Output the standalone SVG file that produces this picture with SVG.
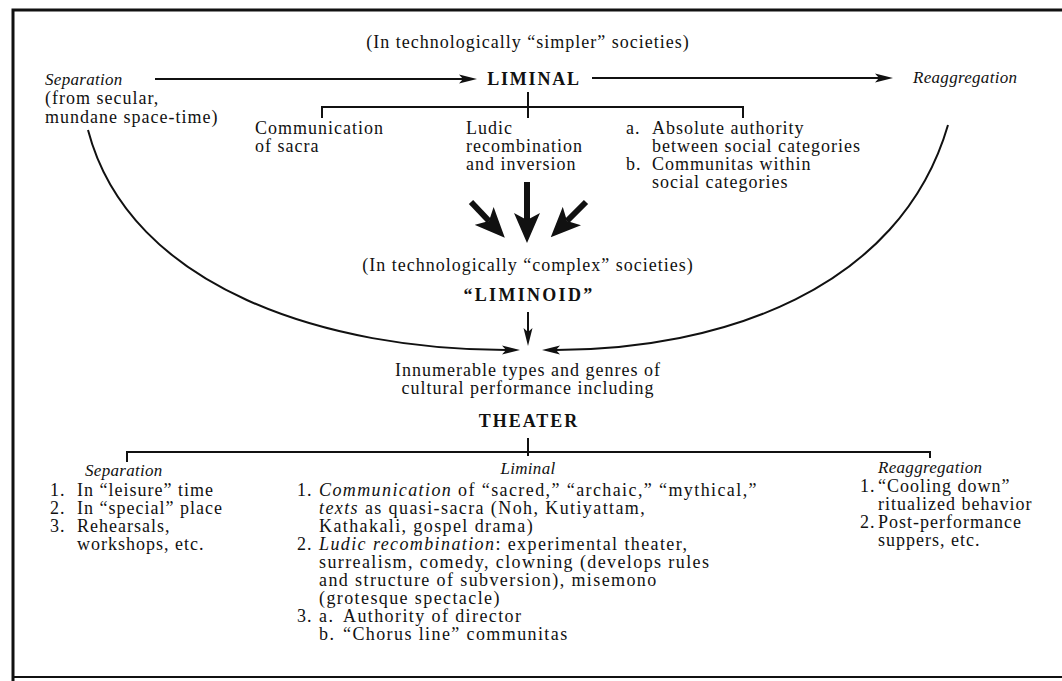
<svg xmlns="http://www.w3.org/2000/svg" width="1062" height="681" viewBox="0 0 1062 681">
<defs>
<style>
text { font-family: "Liberation Serif", "Times New Roman", serif; fill:#111; }
.b { font-size:18px; letter-spacing:1px; }
.m { letter-spacing:1.4px; }
.i { font-size:17px; font-style:italic; letter-spacing:0.3px; }
.h { font-size:18px; font-weight:bold; }
.c { text-anchor:middle; }
.ln { fill:none; stroke:#111; stroke-width:2; }
.thick { fill:none; stroke:#111; stroke-width:6; }
</style>
<marker id="ah" markerUnits="userSpaceOnUse" markerWidth="18" markerHeight="10" viewBox="0 0 18 10" refX="4" refY="5" orient="auto"><path d="M0,0.5 L18,5 L0,9.5 L4,5 z" fill="#111"/></marker>
<marker id="big" markerUnits="userSpaceOnUse" markerWidth="30" markerHeight="26" viewBox="0 0 30 26" refX="7" refY="13" orient="auto"><path d="M0,0 L30,13 L0,26 L7,13 z" fill="#111"/></marker>
</defs>
<rect width="1062" height="681" fill="#fff"/>
<g id="frame">
<path d="M13,681 V10 H1062" fill="none" stroke="#111" stroke-width="3"/>
<path d="M13,677 H1062" fill="none" stroke="#111" stroke-width="2"/>
</g>
<g id="connectors">
<path class="ln" d="M155,79 H463" marker-end="url(#ah)"/>
<path class="ln" d="M592,78 H879" marker-end="url(#ah)"/>
<path class="ln" d="M322,118 V107 H743 V118"/>
<path class="ln" d="M528,92 V118"/>
<path class="thick" d="M527,182 V220" marker-end="url(#big)"/>
<path class="thick" d="M471,202 L489,221" marker-end="url(#big)"/>
<path class="thick" d="M586,202 L567,221" marker-end="url(#big)"/>
<path class="ln" d="M88,130 C130,290 330,350 506,350" marker-end="url(#ah)"/>
<path class="ln" d="M948,125 C900,290 720,350 556,350" marker-end="url(#ah)"/>
<path class="ln" d="M528,312 V332" marker-end="url(#ah)"/>
<path class="ln" d="M127,462 V452 H930 V458"/>
<path class="ln" d="M528,438 V456"/>
</g>
<g id="simpler"><text class="b c" x="528" y="48">(In technologically “simpler” societies)</text></g>
<g id="separation-top">
<text class="i" x="45" y="85">Separation</text>
<text class="b" x="45" y="104">(from secular,</text>
<text class="b" x="45" y="123">mundane space-time)</text>
</g>
<g id="liminal-top"><text class="h c" x="534" y="85" letter-spacing="1.8">LIMINAL</text></g>
<g id="reaggregation-top"><text class="i" x="913" y="83">Reaggregation</text></g>
<g id="communication">
<text class="b" x="255" y="134">Communication</text>
<text class="b" x="255" y="152">of sacra</text>
</g>
<g id="ludic">
<text class="b" x="466" y="134">Ludic</text>
<text class="b" x="466" y="152">recombination</text>
<text class="b" x="466" y="170">and inversion</text>
</g>
<g id="authority">
<text class="b" x="626" y="134">a.</text><text class="b" x="652" y="134">Absolute authority</text>
<text class="b" x="652" y="152">between social categories</text>
<text class="b" x="626" y="170">b.</text><text class="b" x="652" y="170">Communitas within</text>
<text class="b" x="652" y="188">social categories</text>
</g>
<g id="complex"><text class="b c" x="528" y="271">(In technologically “complex” societies)</text></g>
<g id="liminoid"><text class="h c" x="529" y="301" letter-spacing="2.3">“LIMINOID”</text></g>
<g id="innumerable">
<text class="b c" x="528" y="376">Innumerable types and genres of</text>
<text class="b c" x="528" y="394">cultural performance including</text>
</g>
<g id="theater"><text class="h c" x="529" y="427" letter-spacing="2">THEATER</text></g>
<g id="separation-bottom">
<text class="i" x="85" y="476">Separation</text>
<text class="b" x="50" y="496">1.</text><text class="b" x="77" y="496">In “leisure” time</text>
<text class="b" x="50" y="514">2.</text><text class="b" x="77" y="514">In “special” place</text>
<text class="b" x="50" y="532">3.</text><text class="b" x="77" y="532">Rehearsals,</text>
<text class="b" x="77" y="550">workshops, etc.</text>
</g>
<g id="liminal-bottom">
<text class="i c" x="528" y="474">Liminal</text>
<text class="b" x="297" y="496">1.</text><text class="b m" x="319" y="496"><tspan font-style="italic">Communication</tspan> of “sacred,” “archaic,” “mythical,”</text>
<text class="b m" x="319" y="514"><tspan font-style="italic">texts</tspan> as quasi-sacra (Noh, Kutiyattam,</text>
<text class="b m" x="319" y="532">Kathakali, gospel drama)</text>
<text class="b" x="297" y="550">2.</text><text class="b m" x="319" y="550"><tspan font-style="italic">Ludic recombination</tspan>: experimental theater,</text>
<text class="b m" x="319" y="568">surrealism, comedy, clowning (develops rules</text>
<text class="b m" x="319" y="586">and structure of subversion), misemono</text>
<text class="b m" x="319" y="604">(grotesque spectacle)</text>
<text class="b" x="297" y="622">3.</text><text class="b m" x="319" y="622">a.</text><text class="b m" x="343" y="622">Authority of director</text>
<text class="b m" x="319" y="640">b.</text><text class="b m" x="343" y="640">“Chorus line” communitas</text>
</g>
<g id="reaggregation-bottom">
<text class="i" x="878" y="473">Reaggregation</text>
<text class="b" x="860" y="492">1.</text><text class="b" x="878" y="492">“Cooling down”</text>
<text class="b" x="878" y="510">ritualized behavior</text>
<text class="b" x="860" y="528">2.</text><text class="b" x="878" y="528">Post-performance</text>
<text class="b" x="878" y="546">suppers, etc.</text>
</g>
</svg>
